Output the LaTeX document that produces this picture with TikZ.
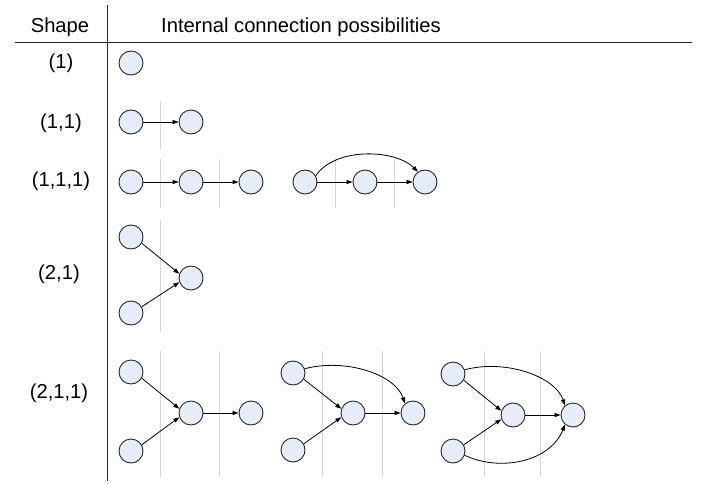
\documentclass[tikz,border=0pt]{standalone}
\usepackage{fontspec}
\setmainfont{Liberation Sans}
\usetikzlibrary{arrows.meta}
\definecolor{cellfill}{RGB}{230,236,248}
\definecolor{rulegray}{RGB}{214,214,214}
\definecolor{inkline}{RGB}{40,40,40}
\tikzset{
  unit/.style={circle, draw=inkline, line width=0.9pt, fill=cellfill, minimum size=24pt, inner sep=0pt},
  link/.style={draw=black, line width=0.8pt, -{Triangle[length=6pt,width=4.2pt]}},
  stage/.style={draw=rulegray, line width=1pt},
  frame/.style={draw=inkline, line width=0.9pt},
  lbl/.style={font=\fontsize{20.2}{24}\selectfont, inner sep=0pt}
}
\begin{document}
\begin{tikzpicture}[x=1pt,y=-1pt]
\useasboundingbox (0,0) rectangle (706,484);

% table frame
\draw[frame] (107,5) -- (107,481);
\draw[frame] (15,42) -- (692,42);
\node[lbl, anchor=base] (hshape) at (60,33) {Shape};
\node[lbl, anchor=base west] (hconn) at (161,33) {Internal connection possibilities};

% row labels
\node[lbl] (r1)   at (61,63)  {(1)};
\node[lbl] (r11)  at (61,123) {(1,1)};
\node[lbl] (r111) at (61,181) {(1,1,1)};
\node[lbl] (r21)  at (59,274) {(2,1)};
\node[lbl] (r211) at (59,393) {(2,1,1)};

% stage dividers
\draw[stage] (160,101) -- (160,149);
\draw[stage] (160,159) -- (160,208);
\draw[stage] (219,159) -- (219,208);
\draw[stage] (335,159) -- (335,208);
\draw[stage] (394,159) -- (394,208);
\draw[stage] (160,220) -- (160,332);
\draw[stage] (160,351) -- (160,477);
\draw[stage] (219,351) -- (219,477);
\draw[stage] (322,351) -- (322,477);
\draw[stage] (382,351) -- (382,477);
\draw[stage] (484,351) -- (484,477);
\draw[stage] (540,351) -- (540,477);

% (1)
\node[unit] (a1) at (131,63) {};

% (1,1)
\node[unit] (b1) at (131,122) {};
\node[unit] (b2) at (191,122) {};
\draw[link] (b1) -- (b2);

% (1,1,1) chain
\node[unit] (c1) at (131,182) {};
\node[unit] (c2) at (191,182) {};
\node[unit] (c3) at (251,182) {};
\draw[link] (c1) -- (c2);
\draw[link] (c2) -- (c3);

% (1,1,1) with skip
\node[unit] (d1) at (305,182) {};
\node[unit] (d2) at (365,182) {};
\node[unit] (d3) at (425,182) {};
\draw[link] (d1) -- (d2);
\draw[link] (d2) -- (d3);
\draw[link] (d1.30) .. controls (335,147) and (395,149) .. (d3.125);

% (2,1)
\node[unit] (e1) at (131,237) {};
\node[unit] (e2) at (131,313) {};
\node[unit] (e3) at (191,278) {};
\draw[link] (e1.-30) -- (e3.160);
\draw[link] (e2.30) -- (e3.200);

% (2,1,1) chain
\node[unit] (f1) at (131,372) {};
\node[unit] (f2) at (131,451) {};
\node[unit] (f3) at (191,413) {};
\node[unit] (f4) at (251,413) {};
\draw[link] (f1.-30) -- (f3.160);
\draw[link] (f2.30) -- (f3.200);
\draw[link] (f3) -- (f4);

% (2,1,1) with one skip
\node[unit] (g1) at (293,373) {};
\node[unit] (g2) at (293,450) {};
\node[unit] (g3) at (353,413) {};
\node[unit] (g4) at (413,413) {};
\draw[link] (g1.-30) -- (g3.160);
\draw[link] (g2.30) -- (g3.200);
\draw[link] (g3) -- (g4);
\draw[link] (g1.20) .. controls (345,358) and (395,374) .. (g4.130);

% (2,1,1) with two skips
\node[unit] (h1) at (453,374) {};
\node[unit] (h2) at (453,451) {};
\node[unit] (h3) at (513,415) {};
\node[unit] (h4) at (573,415) {};
\draw[link] (h1.-30) -- (h3.160);
\draw[link] (h2.30) -- (h3.200);
\draw[link] (h3) -- (h4);
\draw[link] (h1.20) .. controls (505,359) and (555,376) .. (h4.130);
\draw[link] (h2.-20) .. controls (500,472) and (550,462) .. (h4.230);
\end{tikzpicture}
\end{document}
